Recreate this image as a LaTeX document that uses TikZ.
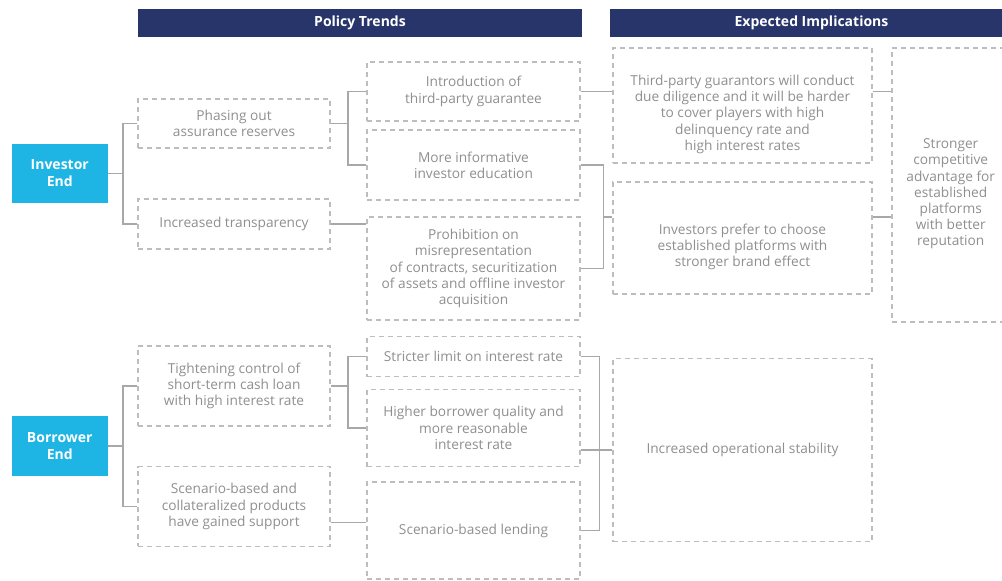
\documentclass[tikz,border=0pt]{standalone}
\usepackage{fontspec}
\setmainfont{Open Sans}
\usepackage{tikz}
\usetikzlibrary{calc}
\definecolor{navy}{HTML}{28356A}
\definecolor{cyanbox}{HTML}{1EB4E4}
\definecolor{dashgray}{HTML}{BDBDBD}
\definecolor{txtgray}{HTML}{8F8F8F}
\definecolor{linegray}{HTML}{A8A8A8}
\tikzstyle{header} = [fill=navy, text=white, inner sep=0pt,
    font=\bfseries\fontsize{14}{16}\selectfont]
\tikzstyle{endbox} = [fill=cyanbox, text=white, align=center, inner sep=0pt,
    font=\bfseries\fontsize{14}{17}\selectfont]
\tikzstyle{dbox} = [draw=dashgray, line width=1.3pt, dash pattern=on 5pt off 4pt,
    text=txtgray, align=center, inner sep=0pt,
    font=\fontsize{13.7}{16.2}\selectfont]
\tikzstyle{link} = [draw=linegray, line width=1.5pt]
% pushes the text of a box a little down
\newcommand{\lowtext}{\rule{0pt}{28pt}}

\begin{document}
\begin{tikzpicture}[x=1pt,y=-1pt]
    \useasboundingbox (0,0) rectangle (1002,581);
    %headers
    \node[header, minimum width=444.5pt, minimum height=28.5pt] (trends) at (360,22.75) {Policy Trends};
    \node[header, minimum width=403pt, minimum height=28.5pt] (impl) at (811.5,22.75) {Expected Implications};
    %ends
    \node[endbox, minimum width=96.5pt, minimum height=59pt] (investor) at (59.75,173.5) {Investor\\End};
    \node[endbox, minimum width=96.5pt, minimum height=59.5pt] (borrower) at (59.75,446) {Borrower\\End};
    %investor trends
    \node[dbox, minimum width=192pt, minimum height=49pt] (phasing) at (234,123.5) {Phasing out\\assurance reserves};
    \node[dbox, minimum width=192pt, minimum height=50pt] (transp) at (234,224) {Increased transparency};
    \node[dbox, minimum width=213pt, minimum height=59pt] (intro) at (473.5,91.5) {Introduction of\\third-party guarantee};
    \node[dbox, minimum width=213pt, minimum height=70pt] (moreinfo) at (473.5,165) {More informative\\investor education};
    \node[dbox, minimum width=213pt, minimum height=103pt] (prohib) at (473.5,268.5) {Prohibition on\\misrepresentation\\of contracts, securitization\\of assets and offline investor\\acquisition};
    %borrower trends
    \node[dbox, minimum width=192pt, minimum height=80pt] (tighten) at (234,386) {Tightening control of\\short-term cash loan\\with high interest rate};
    \node[dbox, minimum width=192pt, minimum height=79.5pt] (scenprod) at (234,506.5) {Scenario-based and\\collateralized products\\have gained support};
    \node[dbox, minimum width=213pt, minimum height=40.5pt] (stricter) at (473.5,356.5) {Stricter limit on interest rate};
    \node[dbox, minimum width=213pt, minimum height=77.5pt] (higher) at (473.5,428) {Higher borrower quality and\\more reasonable\\interest rate};
    \node[dbox, minimum width=213pt, minimum height=97pt] (scenlend) at (473.5,530.5) {Scenario-based lending};
    %implications
    \node[dbox, minimum width=259pt, minimum height=115pt] (thirdp) at (742.5,105.5) {\lowtext Third-party guarantors will conduct\\due diligence and it will be harder\\to cover players with high\\delinquency rate and\\high interest rates};
    \node[dbox, minimum width=259pt, minimum height=112pt] (prefer) at (742.5,238) {\lowtext Investors prefer to choose\\established platforms with\\stronger brand effect};
    \node[dbox, minimum width=117.5pt, minimum height=274pt] (stronger) at (950.75,185) {\lowtext Stronger\\competitive\\advantage for\\established\\platforms\\with better\\reputation};
    \node[dbox, minimum width=259pt, minimum height=183pt] (stability) at (742.5,450) {Increased operational stability};
    %links investor
    \draw[link] (investor.east) -- ++(15,0) coordinate (ij);
    \draw[link] (phasing.west) -| (ij) |- (transp.west);
    \draw[link] (phasing.east) -- ++(17.5,0) coordinate (pj);
    \draw[link] (intro.west) -| (pj) |- (moreinfo.west);
    \draw[link] (transp.east) -- (transp.east -| prohib.west);
    \draw[link] (intro.east) -- (intro.east -| thirdp.west);
    \draw[link] (thirdp.east |- intro.east) -- (stronger.west |- intro.east);
    \coordinate (pm) at ($(moreinfo.east)!0.5!(prohib.east)$);
    \draw[link] (moreinfo.east) -| ([xshift=23pt]prohib.east) -- (prohib.east);
    \draw[link] ([xshift=23pt]pm) -- (pm -| prefer.west);
    \draw[link] (prefer.east |- pm) -- (stronger.west |- pm);
    %links borrower
    \draw[link] (borrower.east) -- ++(15,0) coordinate (bj);
    \draw[link] (tighten.west) -| (bj) |- (scenprod.west);
    \draw[link] (tighten.east) -- ++(17.5,0) coordinate (tj);
    \draw[link] (stricter.west) -| (tj) |- (higher.west);
    \draw[link] ([yshift=-16pt]scenprod.east) -- ([yshift=-16pt]scenprod.east -| scenlend.west);
    \draw[link] (stricter.east) -| ([xshift=19pt]scenlend.east) -- (scenlend.east);
    \draw[link] (higher.east |- stability.west) -- (stability.west);
\end{tikzpicture}
\end{document}
